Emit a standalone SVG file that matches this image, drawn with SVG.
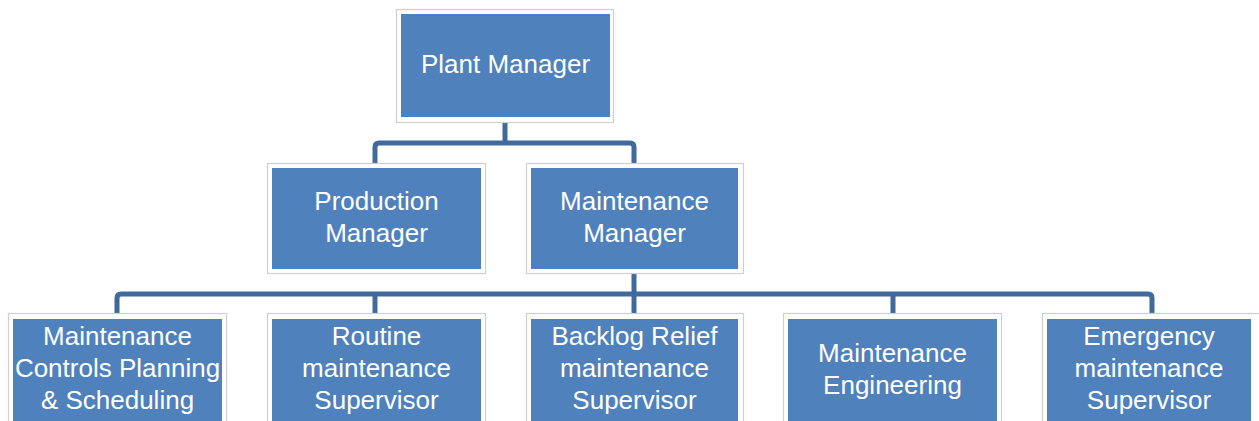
<svg xmlns="http://www.w3.org/2000/svg" width="1259" height="421" viewBox="0 0 1259 421">
  <style>
    .frame { fill: #ffffff; stroke: #cfcfcf; stroke-width: 1.2; }
    .box { fill: #4f81bd; }
    .label { font-family: "Liberation Sans", Arial, sans-serif; font-size: 26px; fill: #ffffff; text-anchor: middle; }
    .link { fill: none; stroke: #41699b; stroke-width: 5; stroke-linejoin: round; }
  </style>
  <rect width="1259" height="421" fill="#ffffff"/>

  <!-- connectors -->
  <g id="connectors">
    <path class="link" d="M505 122 V143"/>
    <path class="link" d="M375 163 V147 Q375 143 379 143 H630 Q634 143 634 147 V163"/>
    <path class="link" d="M634 273 V313"/>
    <path class="link" d="M117 313 V298 Q117 294 121 294 H1148 Q1152 294 1152 298 V313"/>
    <path class="link" d="M375 294 V313"/>
    <path class="link" d="M893 294 V313"/>
  </g>

  <g id="plant-manager">
    <rect class="frame" x="396.5" y="9.5" width="217" height="113"/>
    <rect class="box" x="401" y="14" width="209" height="103"/>
    <text class="label" x="505.5" y="73">Plant Manager</text>
  </g>

  <g id="production-manager">
    <rect class="frame" x="267.5" y="163.5" width="218" height="110"/>
    <rect class="box" x="272" y="168" width="209" height="101"/>
    <text class="label" x="376.5" y="210">Production</text>
    <text class="label" x="376.5" y="242">Manager</text>
  </g>

  <g id="maintenance-manager">
    <rect class="frame" x="526.5" y="163.5" width="217" height="110"/>
    <rect class="box" x="531" y="168" width="207" height="101"/>
    <text class="label" x="634.5" y="210">Maintenance</text>
    <text class="label" x="634.5" y="242">Manager</text>
  </g>

  <g id="controls-planning">
    <rect class="frame" x="8.5" y="313.5" width="218" height="120"/>
    <rect class="box" x="13" y="319" width="209" height="110"/>
    <text class="label" x="117.5" y="345">Maintenance</text>
    <text class="label" x="117.5" y="377">Controls Planning</text>
    <text class="label" x="117.5" y="409">&amp; Scheduling</text>
  </g>

  <g id="routine-supervisor">
    <rect class="frame" x="267.5" y="313.5" width="218" height="120"/>
    <rect class="box" x="272" y="319" width="209" height="110"/>
    <text class="label" x="376.5" y="345">Routine</text>
    <text class="label" x="376.5" y="377">maintenance</text>
    <text class="label" x="376.5" y="409">Supervisor</text>
  </g>

  <g id="backlog-supervisor">
    <rect class="frame" x="526.5" y="313.5" width="217" height="120"/>
    <rect class="box" x="531" y="319" width="207" height="110"/>
    <text class="label" x="634.5" y="345">Backlog Relief</text>
    <text class="label" x="634.5" y="377">maintenance</text>
    <text class="label" x="634.5" y="409">Supervisor</text>
  </g>

  <g id="maintenance-engineering">
    <rect class="frame" x="783.5" y="313.5" width="218" height="120"/>
    <rect class="box" x="788" y="319" width="209" height="110"/>
    <text class="label" x="892.5" y="362">Maintenance</text>
    <text class="label" x="892.5" y="394">Engineering</text>
  </g>

  <g id="emergency-supervisor">
    <rect class="frame" x="1042.5" y="313.5" width="218" height="120"/>
    <rect class="box" x="1047" y="319" width="204" height="110"/>
    <text class="label" x="1149" y="345">Emergency</text>
    <text class="label" x="1149" y="377">maintenance</text>
    <text class="label" x="1149" y="409">Supervisor</text>
  </g>
</svg>
